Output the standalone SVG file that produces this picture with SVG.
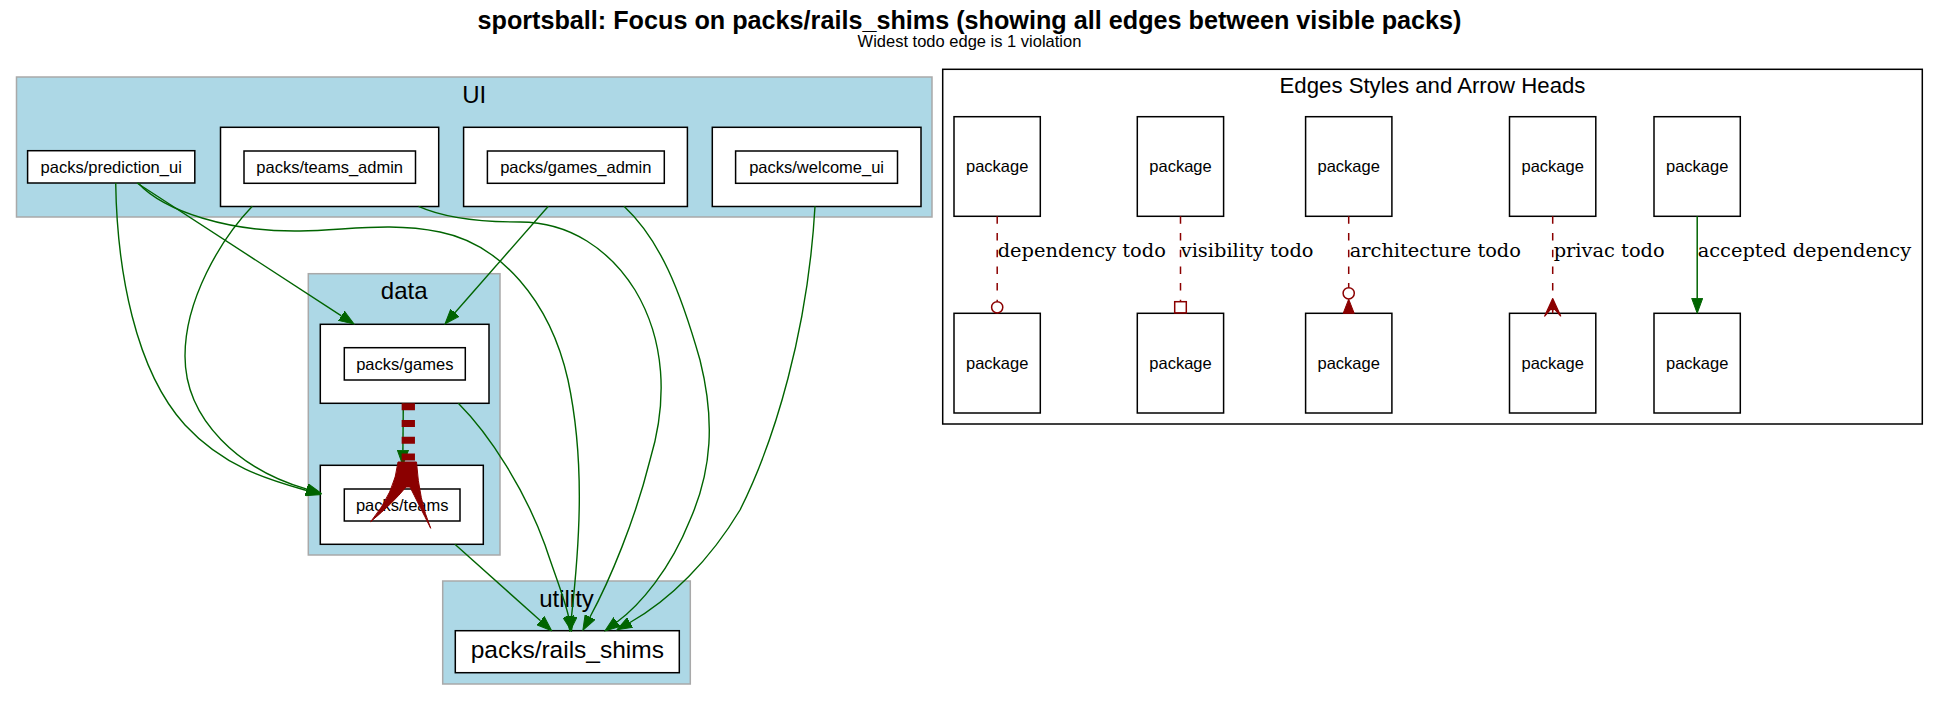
<svg xmlns="http://www.w3.org/2000/svg" width="1939" height="701" viewBox="0 0 1939 701">
<defs>
<style>
.cl{fill:#add8e6;stroke:#a9a9a9;stroke-width:1.5}
.nd{fill:#fff;stroke:#000;stroke-width:1.5}
.t{font-family:"Liberation Sans",Arial,sans-serif;font-size:16.5px;text-anchor:middle;fill:#000}
.ct{font-family:"Liberation Sans",Arial,sans-serif;font-size:24px;text-anchor:middle;fill:#000}
.el{font-family:"DejaVu Serif","Liberation Serif",serif;font-size:19.4px;fill:#000}
.e{fill:none;stroke:#006400;stroke-width:1.4}
.todo{fill:none;stroke:#8b0000;stroke-width:1.5;stroke-dasharray:7.5,9.2}
</style>
<marker id="arr" markerUnits="userSpaceOnUse" markerWidth="16" markerHeight="12" viewBox="0 -0.5 16 12" refX="0" refY="5.5" orient="auto">
<path d="M0,0 L15,5.5 L0,11 z" fill="#006400" stroke="#006400" stroke-width="1"/>
</marker>
</defs>
<rect width="1939" height="701" fill="#fff"/>
<g id="title">
<text x="969.5" y="29.3" style="font-family:'Liberation Sans',Arial,sans-serif;font-size:25.2px;font-weight:bold;text-anchor:middle">sportsball: Focus on packs/rails_shims (showing all edges between visible packs)</text>
<text x="969.5" y="46.7" class="t">Widest todo edge is 1 violation</text>
</g>
<g id="cluster_ui">
<rect class="cl" x="16.5" y="77" width="915.5" height="140"/>
<text class="ct" x="474.2" y="103.3">UI</text>
</g>
<g id="cluster_data">
<rect class="cl" x="308.3" y="273.7" width="191.7" height="281.3"/>
<text class="ct" x="404.2" y="299">data</text>
</g>
<g id="cluster_utility">
<rect class="cl" x="442.7" y="581" width="247.6" height="103"/>
<text class="ct" x="566.5" y="606.7">utility</text>
</g>
<g id="node_prediction_ui">
<rect class="nd" x="27.6" y="150.7" width="167.2" height="32.3"/>
<text class="t" x="111.2" y="172.6">packs/prediction_ui</text>
</g>
<g id="node_teams_admin">
<rect class="nd" x="220.5" y="127.3" width="218.2" height="79.2"/>
<rect class="nd" x="244" y="151" width="171.5" height="32.3"/>
<text class="t" x="329.7" y="172.9">packs/teams_admin</text>
</g>
<g id="node_games_admin">
<rect class="nd" x="463.6" y="127.3" width="223.8" height="79.2"/>
<rect class="nd" x="487.4" y="151" width="176.9" height="32.3"/>
<text class="t" x="575.8" y="172.9">packs/games_admin</text>
</g>
<g id="node_welcome_ui">
<rect class="nd" x="712.3" y="127.3" width="208.7" height="79.2"/>
<rect class="nd" x="735.6" y="151" width="161.9" height="32.3"/>
<text class="t" x="816.6" y="172.9">packs/welcome_ui</text>
</g>
<g id="node_games">
<rect class="nd" x="320.3" y="324.3" width="168.7" height="79"/>
<rect class="nd" x="344.3" y="347.7" width="121" height="32.3"/>
<text class="t" x="404.8" y="369.5">packs/games</text>
</g>
<g id="node_teams">
<rect class="nd" x="320.3" y="465.3" width="163" height="79"/>
<rect class="nd" x="344.3" y="489" width="115.7" height="32"/>
<text class="t" x="402.2" y="510.7">packs/teams</text>
</g>
<g id="node_rails_shims">
<rect class="nd" x="455.3" y="630.7" width="224" height="42"/>
<text x="567.3" y="658" style="font-family:'Liberation Sans',Arial,sans-serif;font-size:24.5px;text-anchor:middle">packs/rails_shims</text>
</g>
<g id="connectors">
<path class="e" marker-end="url(#arr)" d="M115.7,183 C117,270 135,370 185,425 C225,468 270,480 306.2,490.4"/>
<path class="e" marker-end="url(#arr)" d="M252.3,206.3 C220,240 185,300 185,356 C185,420 240,470 306.9,489.2"/>
<path class="e" marker-end="url(#arr)" d="M137,183 L341.4,315.8"/>
<path class="e" marker-end="url(#arr)" d="M138,183 C165,212 230,232 300,231 C350,230 390,222 440,232 C500,244 550,300 568,380 C585,460 580,540 571.5,616.5"/>
<path class="e" marker-end="url(#arr)" d="M418.5,206.3 C440,216 470,222 520,222 C570,222 610,250 635,290 C665,340 668,400 650,460 C635,520 610,580 590,617"/>
<path class="e" marker-end="url(#arr)" d="M548.3,206.3 L454.9,312.7"/>
<path class="e" marker-end="url(#arr)" d="M624,206.3 C660,240 680,290 700,360 C715,420 712,470 690,520 C670,570 640,605 617,622"/>
<path class="e" marker-end="url(#arr)" d="M815,206.3 C808,330 775,440 740,510 C710,560 670,600 630,622.5"/>
<path class="e" marker-end="url(#arr)" d="M454.9,544.3 L540.5,620.7"/>
<path class="e" marker-end="url(#arr)" d="M458.3,403.3 C490,435 525,490 545,545 C556,578 565,600 568.5,616.5"/>
<path class="e" marker-end="url(#arr)" d="M403.3,403.3 L402.9,450.3"/>
<path d="M408.3,403.3 L408.3,461" fill="none" stroke="#8b0000" stroke-width="13.3" stroke-dasharray="7,9.7"/>
<path d="M398,462 L416.5,462 Q419,500 430.7,528.3 Q418,503 410,487 L406,487 Q393,503 370.7,521.7 Q395,492 398,462 Z" fill="#8b0000" stroke="#8b0000" stroke-width="1"/>
</g>
<g id="legend">
<rect x="942.7" y="69.3" width="979.6" height="354.7" fill="none" stroke="#000" stroke-width="1.5"/>
<text x="1432.5" y="93.3" style="font-family:'Liberation Sans',Arial,sans-serif;font-size:22.2px;text-anchor:middle">Edges Styles and Arrow Heads</text>
<g id="legend_nodes">
<rect class="nd" x="954" y="116.7" width="86.3" height="99.6"/><text class="t" x="997.2" y="171.8">package</text>
<rect class="nd" x="954" y="313.3" width="86.3" height="99.7"/><text class="t" x="997.2" y="368.5">package</text>
<rect class="nd" x="1137.3" y="116.7" width="86.3" height="99.6"/><text class="t" x="1180.5" y="171.8">package</text>
<rect class="nd" x="1137.3" y="313.3" width="86.3" height="99.7"/><text class="t" x="1180.5" y="368.5">package</text>
<rect class="nd" x="1305.6" y="116.7" width="86.3" height="99.6"/><text class="t" x="1348.7" y="171.8">package</text>
<rect class="nd" x="1305.6" y="313.3" width="86.3" height="99.7"/><text class="t" x="1348.7" y="368.5">package</text>
<rect class="nd" x="1509.5" y="116.7" width="86.3" height="99.6"/><text class="t" x="1552.7" y="171.8">package</text>
<rect class="nd" x="1509.5" y="313.3" width="86.3" height="99.7"/><text class="t" x="1552.7" y="368.5">package</text>
<rect class="nd" x="1654" y="116.7" width="86.3" height="99.6"/><text class="t" x="1697.2" y="171.8">package</text>
<rect class="nd" x="1654" y="313.3" width="86.3" height="99.7"/><text class="t" x="1697.2" y="368.5">package</text>
</g>
<g id="legend_edges">
<path class="todo" d="M997.2,216.3 L997.2,301.3"/>
<circle cx="997.2" cy="307.3" r="5.6" fill="none" stroke="#8b0000" stroke-width="1.5"/>
<path class="todo" d="M1180.5,216.3 L1180.5,301.7"/>
<rect x="1174.7" y="301.7" width="11.6" height="11.2" fill="none" stroke="#8b0000" stroke-width="1.5"/>
<path class="todo" d="M1348.7,216.3 L1348.7,287.6"/>
<circle cx="1348.7" cy="293.3" r="5.6" fill="none" stroke="#8b0000" stroke-width="1.5"/>
<path d="M1348.7,299.2 L1354.2,313.3 L1343.2,313.3 Z" fill="#8b0000" stroke="#8b0000" stroke-width="1"/>
<path class="todo" d="M1552.7,216.3 L1552.7,306"/>
<path d="M1552.7,298.5 L1560.7,316 L1553.3,307.5 L1552.7,313 L1552.1,307.5 L1544.7,316 Z" fill="#8b0000" stroke="#8b0000" stroke-width="1.2" stroke-linejoin="round"/>
<path class="e" style="stroke-width:1.5" marker-end="url(#arr)" d="M1697.2,216.3 L1697.2,298.3"/>
<text class="el" x="997.7" y="256.7">dependency todo</text>
<text class="el" x="1180.7" y="256.7">visibility todo</text>
<text class="el" x="1349.7" y="256.7">architecture todo</text>
<text class="el" x="1553.7" y="256.7">privac todo</text>
<text class="el" x="1697.7" y="256.7">accepted dependency</text>
</g>
</g>
</svg>
